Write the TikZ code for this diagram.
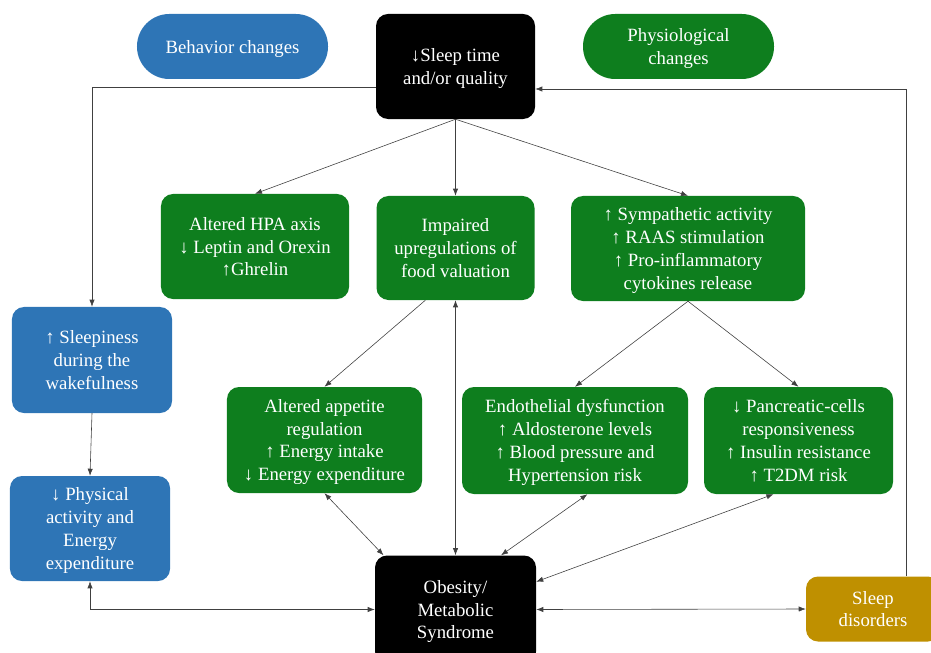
\documentclass[tikz,border=0pt]{standalone}
\usepackage{fontspec}
\setmainfont{Liberation Serif}
\usetikzlibrary{arrows.meta}
\definecolor{behblue}{RGB}{46,117,182}
\definecolor{physgreen}{RGB}{14,126,30}
\definecolor{disgold}{RGB}{191,144,0}
\begin{document}
\begin{tikzpicture}[x=0.03cm,y=-0.03cm,
  box/.style={rounded corners=0.36cm,text=white,align=center,inner sep=0pt,text depth=0pt,font=\fontsize{16}{19.6}\selectfont},
  pill/.style={box,rounded corners=0.97cm,minimum width=5.73cm,minimum height=1.95cm},
  link/.style={draw=black!75,line width=0.5pt,-{Latex[length=6pt,width=4.5pt]}},
  twoway/.style={link,{Latex[length=6pt,width=4.5pt]}-{Latex[length=6pt,width=4.5pt]}}]
  \clip (0,0) rectangle (931,653);
  \node[pill,fill=behblue] (beh) at (232.5,46.5) {Behavior changes};
  \node[box,fill=black,minimum width=4.77cm,minimum height=3.15cm] (sleep) at (455.5,66.5) {↓Sleep time\\and/or quality};
  \node[pill,fill=physgreen] (phys) at (678.5,46.5) {Physiological\\changes};
  \node[box,fill=physgreen,minimum width=5.64cm,minimum height=3.15cm] (hpa) at (255,246.5) {Altered HPA axis\\↓ Leptin and Orexin\\↑Ghrelin};
  \node[box,fill=physgreen,minimum width=4.74cm,minimum height=3.12cm] (food) at (455.5,248) {Impaired\\upregulations of\\food valuation};
  \node[box,fill=physgreen,minimum width=7.02cm,minimum height=3.15cm] (symp) at (688,248.5) {↑ Sympathetic activity\\↑ RAAS stimulation\\↑ Pro-inflammatory\\cytokines release};
  \node[box,fill=behblue,minimum width=4.8cm,minimum height=3.18cm] (drowsy) at (92,360) {↑ Sleepiness\\during the\\wakefulness};
  \node[box,fill=behblue,minimum width=4.8cm,minimum height=3.15cm] (activity) at (90,528.5) {↓ Physical\\activity and\\Energy\\expenditure};
  \node[box,fill=physgreen,minimum width=5.85cm,minimum height=3.18cm] (appetite) at (324.5,440) {Altered appetite\\regulation\\↑ Energy intake\\↓ Energy expenditure};
  \node[box,fill=physgreen,minimum width=6.78cm,minimum height=3.21cm] (endo) at (575,440.5) {Endothelial dysfunction\\↑ Aldosterone levels\\↑ Blood pressure and\\Hypertension risk};
  \node[box,fill=physgreen,minimum width=5.67cm,minimum height=3.21cm] (panc) at (798.5,440.5) {↓ Pancreatic-cells\\responsiveness\\↑ Insulin resistance\\↑ T2DM risk};
  \node[box,fill=black,minimum width=4.83cm,minimum height=3.24cm] (obesity) at (455.5,609.5) {Obesity/\\Metabolic\\Syndrome};
  \node[box,fill=disgold,minimum width=4.02cm,minimum height=1.95cm] (disorders) at (873,609) {Sleep\\disorders};
  \foreach \t in {hpa,food,symp}
    \draw[link] (sleep.south) -- (\t.north);
  \draw[link] (sleep.west |- 0,87) -| (drowsy.north);
  \draw[link] (disorders.north -| 906,0) |- (sleep.east |- 0,89);
  \draw[link] (drowsy.south) -- (activity.north);
  \draw[link] (food.240) -- (appetite.north);
  \draw[link] (symp.south) -- (endo.north);
  \draw[link] (symp.south) -- (panc.north);
  \draw[twoway] (food.south) -- (obesity.north);
  \draw[twoway] (appetite.south) -- (obesity.143);
  \draw[twoway] (endo.283) -- (obesity.50);
  \draw[twoway] (panc.245) -- (obesity.19);
  \draw[twoway] (activity.south) |- (obesity.west);
  \draw[twoway] (obesity.east) -- (disorders.west);
\end{tikzpicture}
\end{document}
